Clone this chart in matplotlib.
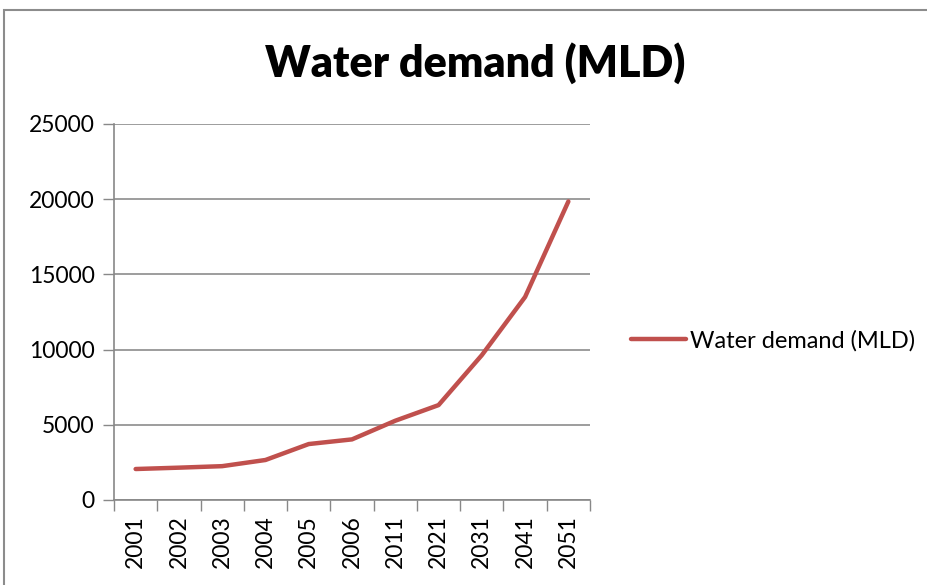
import matplotlib
matplotlib.use("Agg")
import matplotlib.pyplot as plt
from matplotlib.patches import Rectangle
import numpy as np

years = ["2001", "2002", "2003", "2004", "2005", "2006", "2011", "2021", "2031", "2041", "2051"]
demand = [2060, 2150, 2250, 2660, 3720, 4030, 5270, 6310, 9630, 13500, 19850]
yticks = [0, 5000, 10000, 15000, 20000, 25000]

plt.rcParams['font.family'] = ['Lato', 'DejaVu Sans']

fig = plt.figure(figsize=(9.28, 5.85), dpi=100)
fig.patches.append(Rectangle((4/928, -0.01), 1.0, 1 - 10/585 + 0.01, transform=fig.transFigure,
                             fill=False, edgecolor='#8c8c8c', linewidth=1.5))

ax = fig.add_axes([114/928, 1 - 500/585, (590 - 114)/928, (500 - 124)/585])
x = np.arange(len(years))
ax.plot(x, demand, color='#c0504d', linewidth=3.2, solid_capstyle='round', label='Water demand (MLD)')

ax.set_xlim(-0.5, len(years) - 0.5)
ax.set_ylim(0, 25000)
ax.set_yticks(yticks)
ax.set_yticklabels([str(v) for v in yticks], fontsize=16.5)
ax.set_xticks(x)
ax.set_xticklabels(years, rotation=90, fontsize=16.5)
ax.set_xticks(np.arange(-0.5, len(years)), minor=True)
ax.tick_params(axis='x', which='major', length=0, pad=11)
ax.tick_params(axis='x', which='minor', length=8, color='#888888', width=1)
ax.tick_params(axis='y', length=8, color='#888888', width=1, pad=6)
ax.grid(axis='y', color='#8c8c8c', linewidth=1.2)
ax.set_axisbelow(True)
for s in ['top', 'right']:
    ax.spines[s].set_visible(False)
for s in ['left', 'bottom']:
    ax.spines[s].set_color('#888888')
    ax.spines[s].set_linewidth(1.2)

fig.text(475/928, 1 - 63/585, 'Water demand (MLD)', ha='center', va='center',
         fontsize=31, fontweight='heavy')

ax.legend(loc='center left', bbox_to_anchor=(610/928, 1 - 341/585), bbox_transform=fig.transFigure,
          frameon=False, fontsize=17, handlelength=2.3, handletextpad=0.2)

fig.savefig('out.png', dpi=100)
